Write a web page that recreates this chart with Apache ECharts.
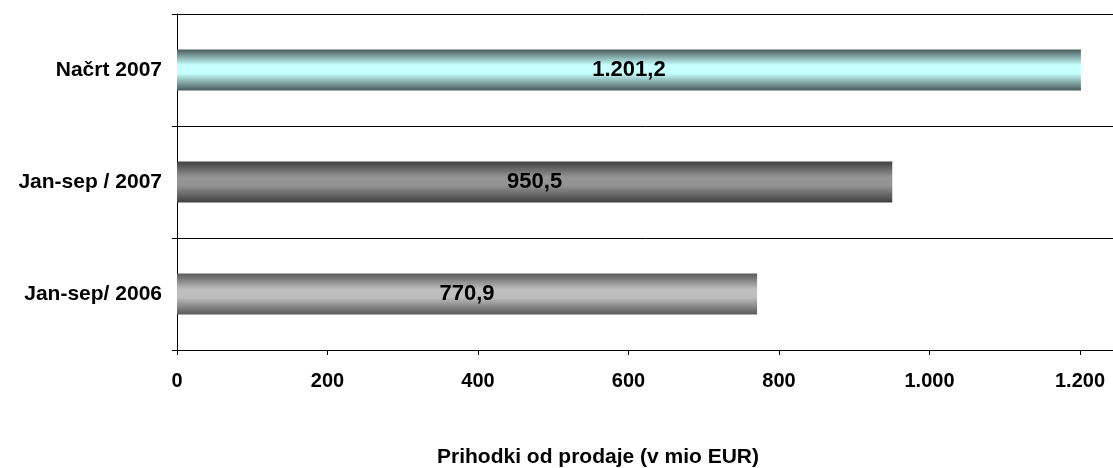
<!DOCTYPE html>
<html>
<head>
<meta charset="utf-8">
<script src="https://cdn.jsdelivr.net/npm/echarts@6/dist/echarts.min.js"></script>
<style>html,body{margin:0;padding:0;background:#fff}#c{width:1113px;height:468px}</style>
</head>
<body>
<div id="c"></div>
<script>
const categories = ['Jan-sep/ 2006', 'Jan-sep / 2007', 'Načrt 2007'];
const values = [770.9, 950.5, 1201.2];
const xTicks = [0, 200, 400, 600, 800, 1000, 1200];
const axisTitle = 'Prihodki od prodaje (v mio EUR)';

const barColors = [
  ['#595959', '#bebebe'],
  ['#404040', '#949494'],
  ['#475a5a', '#c8ffff']
];

function fmt(v, dec) {
  const s = v.toFixed(dec);
  let [i, d] = s.split('.');
  i = i.replace(/\B(?=(\d{3})+(?!\d))/g, '.');
  return d ? i + ',' + d : i;
}

const font = '"Liberation Sans", Arial, sans-serif';
const chart = echarts.init(document.getElementById('c'));
chart.setOption({
  animation: false,
  grid: { left: 177, top: 14, width: 1053.5, height: 336, containLabel: false, outerBoundsMode: 'none' },
  xAxis: {
    type: 'value', min: 0, max: 1400, interval: 200,
    axisLine: { show: true, lineStyle: { color: '#000', width: 1 } },
    axisTick: { show: true, length: 5, lineStyle: { color: '#000' } },
    splitLine: { show: false },
    axisLabel: {
      margin: 21, color: '#000', fontFamily: font, fontWeight: 'bold', fontSize: 20,
      formatter: v => xTicks.indexOf(v) >= 0 ? fmt(v, 0) : ''
    }
  },
  yAxis: {
    type: 'category', data: categories,
    axisLine: { show: true, lineStyle: { color: '#000', width: 1 } },
    axisTick: { show: true, length: 5, lineStyle: { color: '#000' } },
    splitLine: { show: true, lineStyle: { color: '#000', width: 1 } },
    axisLabel: { margin: 15, color: '#000', fontFamily: font, fontWeight: 'bold', fontSize: 21 }
  },
  graphic: [{
    type: 'text', x: 598, y: 457,
    style: { text: axisTitle, fill: '#000', font: 'bold 21px ' + font, align: 'center', verticalAlign: 'middle' }
  }],
  series: [{
    type: 'bar',
    barWidth: 41,
    data: values.map((v, i) => ({
      value: v,
      itemStyle: {
        color: new echarts.graphic.LinearGradient(0, 0, 0, 1, [
          { offset: 0, color: barColors[i][0] },
          { offset: 0.38, color: barColors[i][1] },
          { offset: 0.58, color: barColors[i][1] },
          { offset: 1, color: barColors[i][0] }
        ])
      }
    })),
    label: {
      show: true, position: 'inside', color: '#000',
      fontFamily: font, fontWeight: 'bold', fontSize: 22,
      formatter: p => fmt(p.value, 1)
    }
  }]
});
</script>
</body>
</html>
